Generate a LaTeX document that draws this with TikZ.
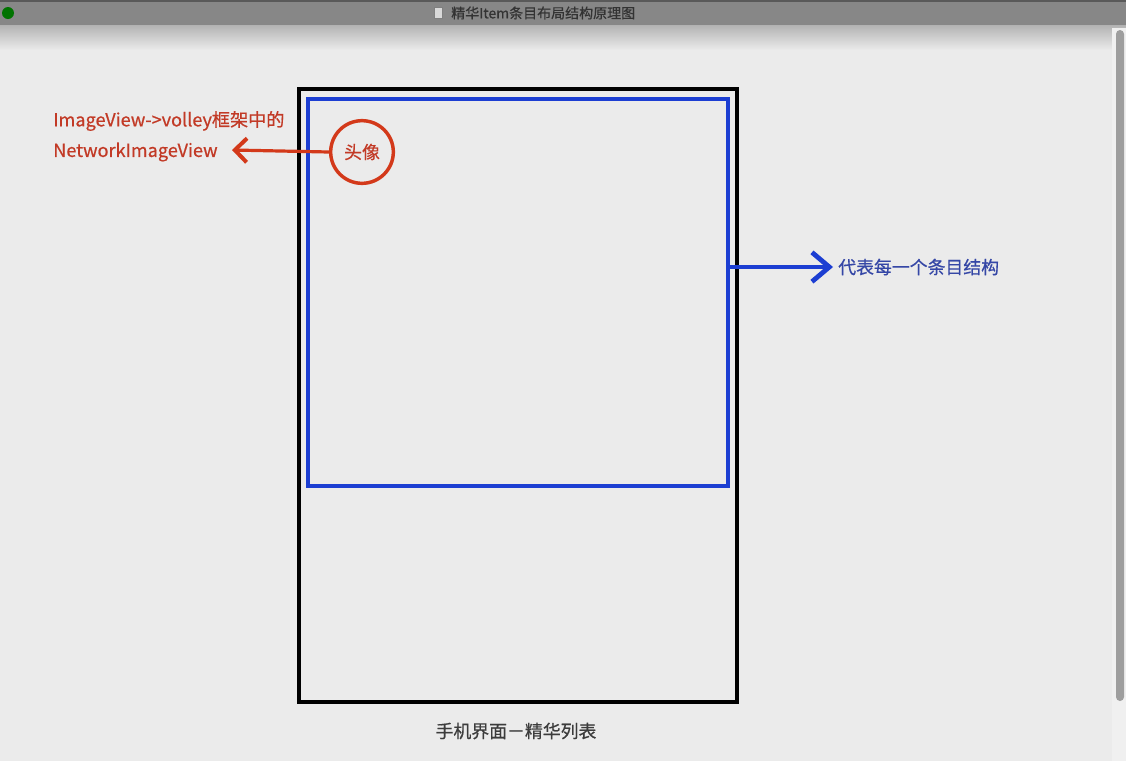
\documentclass[tikz,border=0pt]{standalone}
\usepackage{fontspec}
\setmainfont{Noto Sans CJK SC}
\newfontfamily\labelfont{Noto Sans CJK SC}[FakeBold=0.6]
\usetikzlibrary{arrows.meta}
\definecolor{bgcol}{HTML}{EBEBEB}
\definecolor{barcol}{HTML}{878787}
\definecolor{redline}{HTML}{D3391A}
\definecolor{redtext}{HTML}{C23A26}
\definecolor{blueline}{HTML}{1C3ED2}
\definecolor{bluetext}{HTML}{3547A6}
\definecolor{captext}{HTML}{3C3C3C}
\begin{document}
\begin{tikzpicture}
[x=0.75pt,y=-0.75pt,
  framedecorate/.style={draw=black,line width=2.6pt},%
  itemdecorate/.style={draw=blueline,line width=2.6pt},%
  reddecorate/.style={draw=redline,line width=2.4pt},%
  redtxt/.style={text=redtext,font=\labelfont\fontsize{13.6}{16}\selectfont,inner sep=0pt,anchor=west},%
  bluetxt/.style={text=bluetext,font=\labelfont\fontsize{13.4}{16}\selectfont,inner sep=0pt,anchor=west}]
%% window background
\useasboundingbox (0,0) rectangle (1126,761);
\fill[bgcol] (0,0) rectangle (1126,761);
\shade[top color=black!30,bottom color=bgcol] (0,25) rectangle (1126,50);
\fill[barcol] (0,0) rectangle (1126,25);
\fill[black!65] (0,0) rectangle (1126,2);
\fill[green!45!black] (8,13) circle (6);
\node[draw=black!50,fill=white!85!black,minimum width=6pt,minimum height=8pt,inner sep=0pt] (icon) at (438,13) {};
\node[anchor=west,text=black!80,font=\labelfont\fontsize{10.5}{12}\selectfont,inner sep=0pt] (title) at (451,13) {精华Item条目布局结构原理图};
%% scroll bar
\fill[black!6] (1112,28) rectangle (1126,761);
\fill[black!38,rounded corners=3pt] (1116,30) rectangle (1124,701);
%% phone frame and item frame
\draw[framedecorate] (299,89) rectangle (737,702);
\draw[itemdecorate] (308,99) rectangle (728,486);
\coordinate (itemright) at (728,267);
%% avatar
\node (avatar) at (362,152) [draw=redline,line width=2.6pt,circle,minimum size=47pt,inner sep=0pt,text=redtext,font=\labelfont\fontsize{13.4}{16}\selectfont] {头像};
%% labels
\node (imgline1) at (53,121) [redtxt] {ImageView->volley框架中的};
\node (imgline2) at (53,152) [redtxt] {NetworkImageView};
\node (itemlabel) at (838,267) [bluetxt] {代表每一个条目结构};
\node (caption) at (516,731) [text=captext,font=\labelfont\fontsize{13.4}{16}\selectfont] {手机界面－精华列表};
%% arrows
\coordinate (redtip) at (232,150);
\coordinate (bluetip) at (833,267);
\draw[reddecorate,-{Straight Barb[length=9pt,width=18pt,line width=3pt]}] (avatar.west) -- (redtip);
\draw[draw=blueline,line width=3pt,-{Straight Barb[length=13pt,width=22pt,line width=3.6pt]}] (itemright) -- (bluetip);
\end{tikzpicture}
\end{document}
